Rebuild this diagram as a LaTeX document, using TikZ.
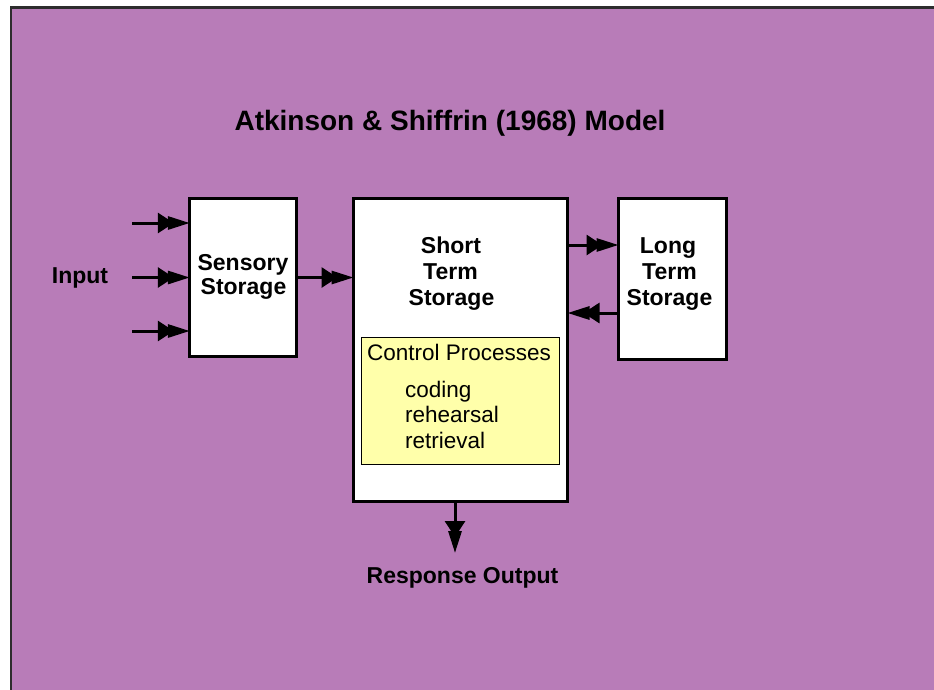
\documentclass[tikz,border=0pt]{standalone}
\usepackage{fontspec}
\setmainfont{Liberation Sans}
\usetikzlibrary{arrows.meta}
\definecolor{bgpurple}{RGB}{184,124,184}
\definecolor{cpyellow}{RGB}{255,255,170}
\definecolor{framegray}{RGB}{45,45,45}
\begin{document}
\begin{tikzpicture}[x=1pt,y=-1pt,
  box/.style={draw=black, fill=white, line width=3pt, inner sep=0pt, outer sep=0pt},
  lbl/.style={font=\fontsize{23}{26}\selectfont\bfseries, inner sep=0pt, anchor=base},
  cp/.style={font=\fontsize{22.5}{25}\selectfont, inner sep=0pt, anchor=base west},
  arr/.style={line width=3pt, -{Triangle[length=16pt,width=20pt,sep=-6pt]Triangle[length=22pt,width=13pt]}}]
\useasboundingbox (0,0) rectangle (934,689);
\begin{scope}
\clip (0,0) rectangle (934,689);
\draw[fill=bgpurple, draw=framegray, line width=2.5pt] (11,7.5) rectangle (960,720);
\end{scope}

% boxes
\node[box, minimum width=107pt, minimum height=158pt] (sens) at (243.3,277.5) {};
\node[box, minimum width=214pt, minimum height=303pt] (sts) at (460.5,350) {};
\node[box, minimum width=108pt, minimum height=161pt] (lts) at (672.5,279) {};
\node[draw=black, fill=cpyellow, line width=1.2pt, inner sep=0pt, minimum width=198pt, minimum height=127pt] (ctrl) at (460.5,401) {};

% connectors
\coordinate (in1) at (132,223);
\coordinate (in2) at (132,277.5);
\coordinate (in3) at (132,331);
\draw[arr] (in1) -- (in1 -| sens.west);
\draw[arr] (in2) -- (in2 -| sens.west);
\draw[arr] (in3) -- (in3 -| sens.west);
\draw[arr] (sens.east) -- (sens.east -| sts.west);
\coordinate (u) at (0,245);
\coordinate (v) at (0,313);
\draw[arr] (sts.east |- u) -- (lts.west |- u);
\draw[arr] (lts.west |- v) -- (sts.east |- v);
\coordinate (d) at (455,0);
\coordinate (respin) at (455,553);
\draw[arr] (sts.south -| d) -- (respin);

% texts
\node[font=\fontsize{28}{32}\selectfont\bfseries, inner sep=0pt, anchor=base] (title) at (450,130) {Atkinson \& Shiffrin (1968) Model};
\node[lbl] (input) at (80,283) {Input};
\node[lbl] (sens1) at (243,270) {Sensory};
\node[lbl] (sens2) at (243.5,294) {Storage};
\node[lbl] (sts1) at (451,253) {Short};
\node[lbl] (sts2) at (450.5,279) {Term};
\node[lbl] (sts3) at (451.5,305) {Storage};
\node[lbl] (lts1) at (668,253) {Long};
\node[lbl] (lts2) at (669.5,279) {Term};
\node[lbl] (lts3) at (669.5,305) {Storage};
\node[font=\fontsize{22.5}{25}\selectfont, inner sep=0pt, anchor=base] (cp0) at (459,360) {Control Processes};
\node[cp] (cp1) at (405,397) {coding};
\node[cp] (cp2) at (405,422) {rehearsal};
\node[cp] (cp3) at (405,448) {retrieval};
\node[lbl] (resp) at (462.5,583) {Response Output};
\end{tikzpicture}
\end{document}
